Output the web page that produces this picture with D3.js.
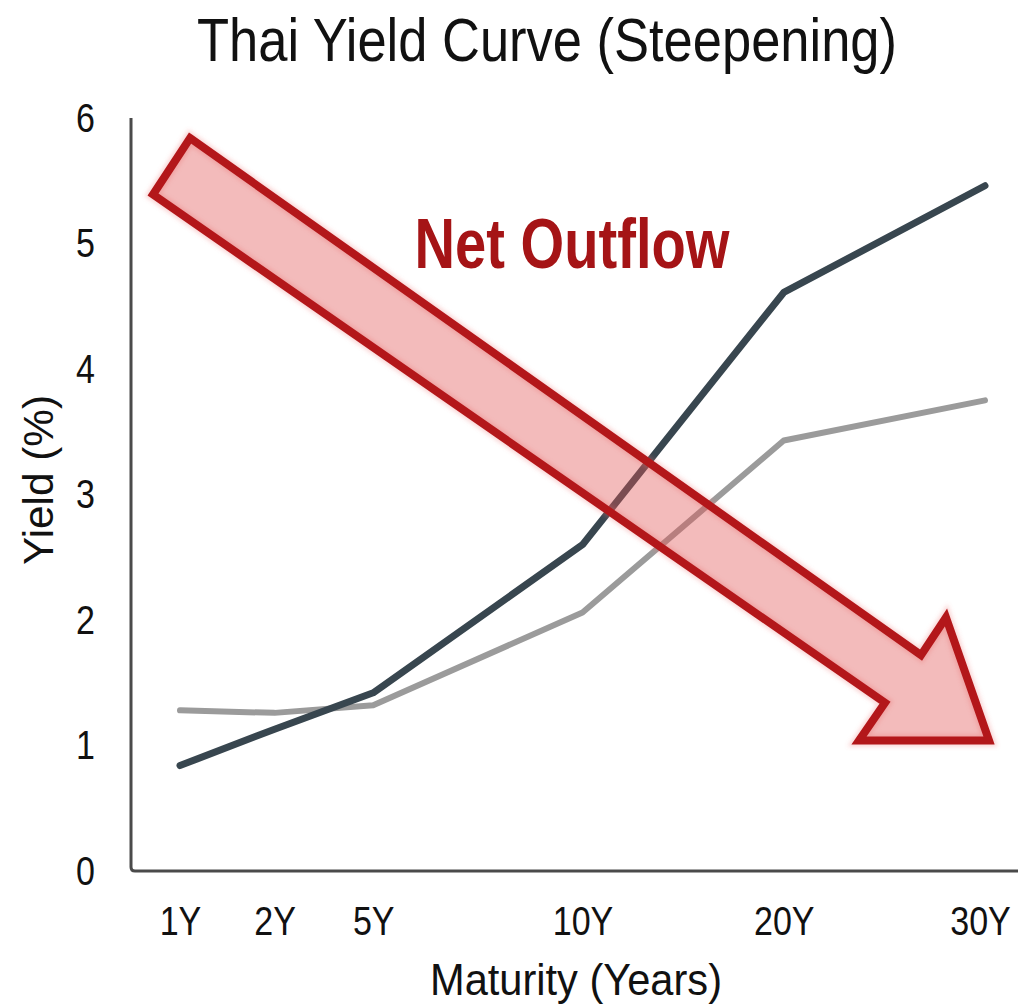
<!DOCTYPE html>
<html>
<head>
<meta charset="utf-8">
<script src="https://cdn.jsdelivr.net/npm/d3@7"></script>
<style>
  body { margin: 0; background: #fff; }
  text { font-family: "Liberation Sans", Arial, sans-serif; }
</style>
</head>
<body>
<svg id="chart"></svg>
<script>
// yield curve data
var tenors = ["1Y", "2Y", "5Y", "10Y", "20Y", "30Y"];
var tenorSlots = [0, 0.47, 0.96, 2, 3, 4];   // uneven spacing on the maturity axis
var yieldNow = [0.84, 1.13, 1.42, 2.60, 4.61, 5.46];
var yieldBefore = [1.28, 1.26, 1.32, 2.06, 3.43, 3.75];
var yTicks = [0, 1, 2, 3, 4, 5, 6];

// arrow annotation, in (slot, yield) units
var arrowPts = [[0.05, 5.84], [3.682, 1.72], [3.806, 2.02], [4.02, 1.04],
                [3.374, 1.04], [3.503, 1.34], [-0.134, 5.39]];

var W = 1018, H = 1005;
var svg = d3.select("#chart").attr("width", W).attr("height", H);

var xLin = d3.scaleLinear().domain([0, 4]).range([180, 985]);
var x = d3.scaleOrdinal().domain(tenors).range(tenorSlots.map(xLin));
var y = d3.scaleLinear().domain([0, 6]).range([871, 118]);

var axisLeft = 131, axisBottom = 871;

// axes
var yAx = svg.append("g")
  .attr("transform", "translate(" + axisLeft + ",0)")
  .call(d3.axisLeft(y).tickValues(yTicks).tickFormat(d3.format("d"))
    .tickSize(0).tickPadding(36));
var xAx = svg.append("g")
  .attr("transform", "translate(0," + axisBottom + ")")
  .call(d3.axisBottom(x).tickSize(0).tickPadding(35));
[yAx, xAx].forEach(function (g) {
  g.select(".domain").remove();
  g.selectAll("text")
    .attr("class", "cond")
    .style("font-family", "Liberation Sans, Arial, sans-serif")
    .style("font-size", "41px")
    .style("fill", "#111");
});
xAx.selectAll("text").filter(function (d) { return d === "30Y"; }).attr("x", -5);

svg.append("path")
  .attr("d", "M" + axisLeft + ",118 L" + axisLeft + "," + (axisBottom - 4) +
    " Q" + axisLeft + "," + axisBottom + " " + (axisLeft + 4) + "," + axisBottom +
    " L1018," + axisBottom)
  .style("fill", "none")
  .style("stroke", "#4a4a4a")
  .style("stroke-width", 3);

// lines
var line = d3.line()
  .x(function (d, i) { return x(tenors[i]); })
  .y(function (d) { return y(d); });

svg.append("path")
  .datum(yieldBefore)
  .attr("d", line)
  .style("fill", "none")
  .style("stroke", "#9b9b9b")
  .style("stroke-width", 6)
  .style("stroke-linecap", "round")
  .style("stroke-linejoin", "round");

svg.append("path")
  .datum(yieldNow)
  .attr("d", line)
  .style("fill", "none")
  .style("stroke", "#38464f")
  .style("stroke-width", 7)
  .style("stroke-linecap", "round")
  .style("stroke-linejoin", "round");

// arrow
var defs = svg.append("defs");
defs.append("filter").attr("id", "glow")
  .attr("x", "-10%").attr("y", "-10%").attr("width", "120%").attr("height", "120%")
  .append("feGaussianBlur").attr("stdDeviation", 2);

var arrowPath = d3.line()
  .x(function (d) { return xLin(d[0]); })
  .y(function (d) { return y(d[1]); })
  .curve(d3.curveLinearClosed);

svg.append("path")
  .datum(arrowPts)
  .attr("d", arrowPath)
  .style("fill", "none")
  .style("stroke", "#f07070")
  .style("stroke-width", 12)
  .style("stroke-opacity", 0.3)
  .attr("filter", "url(#glow)");

svg.append("path")
  .datum(arrowPts)
  .attr("d", arrowPath)
  .style("fill", "#e05555")
  .style("fill-opacity", 0.4)
  .style("stroke", "#b3171a")
  .style("stroke-width", 8)
  .style("stroke-linejoin", "miter");

// texts
svg.append("text")
  .attr("class", "fit").attr("data-w", 700)
  .attr("x", 547).attr("y", 61)
  .style("text-anchor", "middle")
  .style("font-size", "62px")
  .style("fill", "#111")
  .text("Thai Yield Curve (Steepening)");

svg.append("text")
  .attr("class", "fit").attr("data-w", 315)
  .attr("x", 572).attr("y", 268)
  .style("text-anchor", "middle")
  .style("font-size", "70px")
  .style("font-weight", "bold")
  .style("fill", "#a51416")
  .text("Net Outflow");

svg.append("text")
  .attr("class", "fit").attr("data-w", 170)
  .attr("transform", "translate(53,480) rotate(-90)")
  .style("text-anchor", "middle")
  .style("font-size", "43px")
  .style("fill", "#111")
  .text("Yield (%)");

svg.append("text")
  .attr("class", "fit").attr("data-w", 292)
  .attr("x", 576).attr("y", 995)
  .style("text-anchor", "middle")
  .style("font-size", "44px")
  .style("fill", "#111")
  .text("Maturity (Years)");

// squeeze the text to look like a condensed face
svg.selectAll("text.fit").each(function () {
  this.setAttribute("textLength", +this.getAttribute("data-w"));
  this.setAttribute("lengthAdjust", "spacingAndGlyphs");
});
svg.selectAll("text.cond").each(function () {
  var len = this.getComputedTextLength();
  this.setAttribute("textLength", len * 0.83);
  this.setAttribute("lengthAdjust", "spacingAndGlyphs");
});
</script>
</body>
</html>
